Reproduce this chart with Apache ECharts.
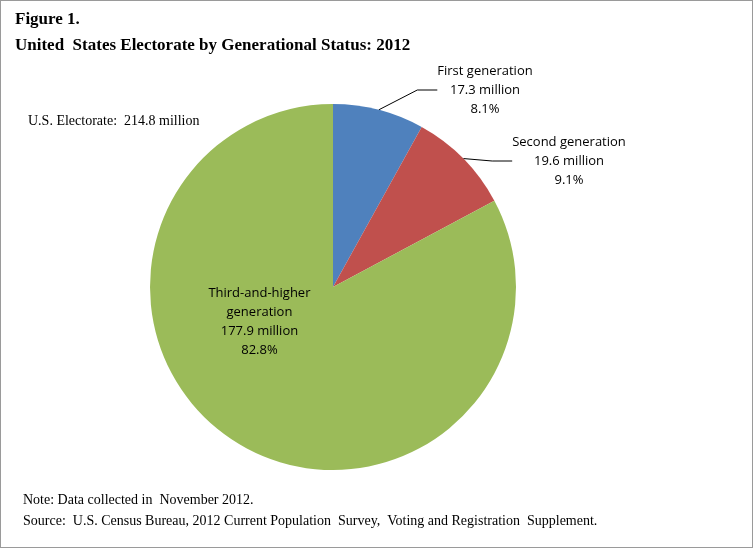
<!DOCTYPE html>
<html>
<head>
<meta charset="utf-8">
<script src="https://cdn.jsdelivr.net/npm/echarts@6/dist/echarts.min.js"></script>
<style>
  html, body { margin: 0; padding: 0; background: #fff; }
  #chart { width: 751px; height: 546px; border: 1px solid #9a9a9a; }
</style>
</head>
<body>
<div id="chart"></div>
<script>
// generational groups, values in millions
const categories = ['First generation', 'Second generation', 'Third-and-higher\ngeneration']
const values = [17.3, 19.6, 177.9]
const shares = ['8.1%', '9.1%', '82.8%']
const colors = ['#4F81BD', '#C0504D', '#9BBB59']

const serif = '"Liberation Serif", "Times New Roman", serif'
const sans = '"Open Sans", "Liberation Sans", sans-serif'

const chart = echarts.init(document.getElementById('chart'))

// fixed label anchors for the two small slices
const labelSpots = [
  { x: 484, y: 89 },
  { x: 568, y: 160 },
]

chart.setOption({
  animation: false,
  graphic: [
    { type: 'text', left: 14, top: 10, style: { text: 'Figure 1.', font: 'bold 17px ' + serif, fill: '#000' } },
    { type: 'text', left: 14, top: 36, style: { text: 'United  States Electorate by Generational Status: 2012', font: 'bold 17px ' + serif, fill: '#000' } },
    { type: 'text', left: 27, top: 113, style: { text: 'U.S. Electorate:  214.8 million', font: '14px ' + serif, fill: '#000' } },
    { type: 'text', left: 22, top: 492, style: { text: 'Note: Data collected in  November 2012.', font: '14px ' + serif, fill: '#000' } },
    { type: 'text', left: 22, top: 513, style: { text: 'Source:  U.S. Census Bureau, 2012 Current Population  Survey,  Voting and Registration  Supplement.', font: '14px ' + serif, fill: '#000' } },
  ],
  series: [
    {
      type: 'pie',
      center: [332, 286],
      radius: 183,
      startAngle: 90,
      clockwise: true,
      color: colors,
      data: categories.map((name, i) => ({
        name: name,
        value: values[i],
        label: i === 2
          ? { position: 'inside', offset: [-25, -46] }
          : { position: 'outside' },
        labelLine: { show: i !== 2 },
      })),
      label: {
        formatter: (p) => p.name + '\n' + values[p.dataIndex] + ' million\n' + shares[p.dataIndex],
        fontFamily: sans,
        fontSize: 13,
        lineHeight: 19,
        color: '#000',
        align: 'center',
      },
      labelLine: {
        length: 20,
        length2: 20,
        lineStyle: { color: '#000', width: 1 },
      },
      labelLayout: (p) => {
        const spot = labelSpots[p.dataIndex]
        if (!spot) return {}
        return { x: spot.x, y: spot.y, align: 'center', verticalAlign: 'middle' }
      },
      emphasis: { disabled: true },
    },
  ],
})
</script>
</body>
</html>
